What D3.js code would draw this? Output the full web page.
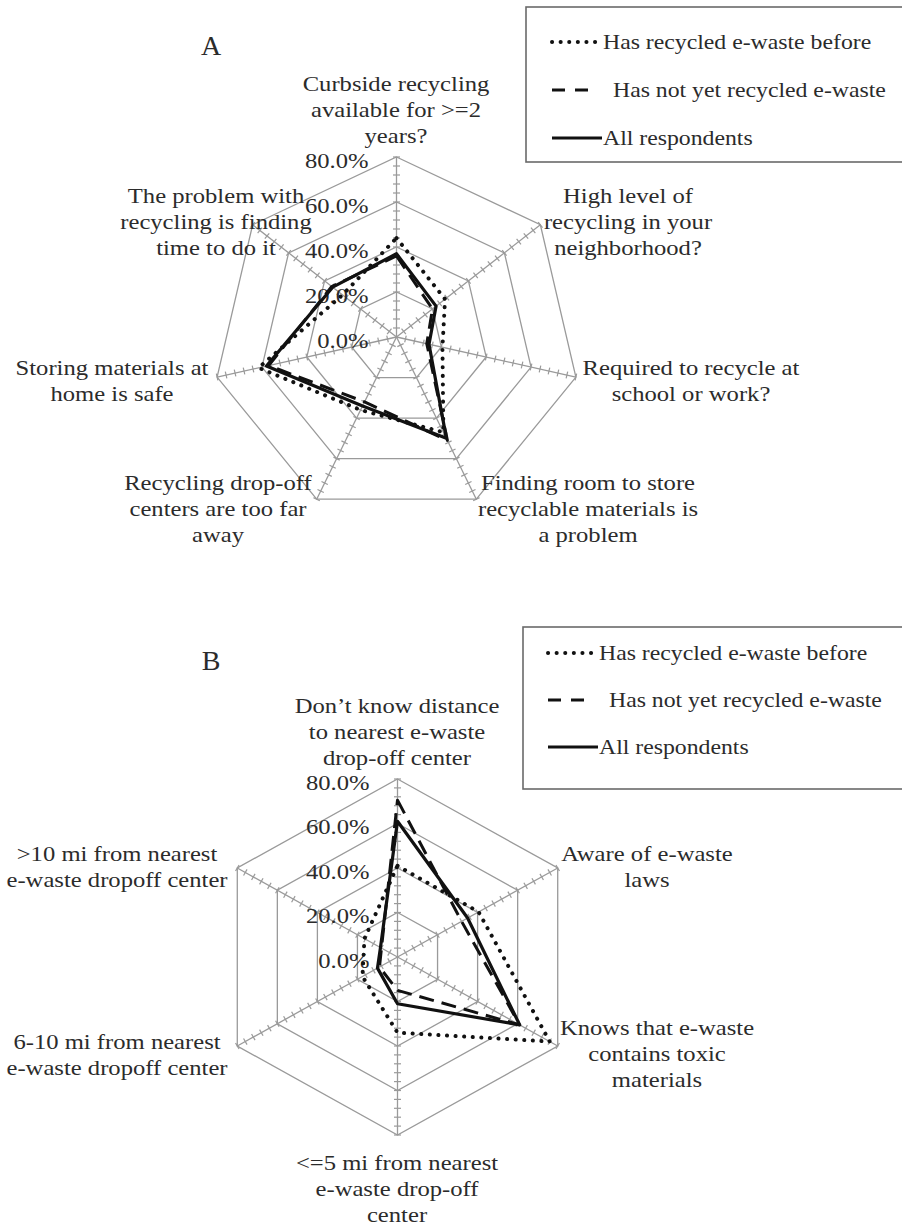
<!DOCTYPE html>
<html>
<head>
<meta charset="utf-8">
<script src="https://cdn.jsdelivr.net/npm/d3@7"></script>
<style>
  body { margin: 0; background: #fff; }
  svg { display: block; }
  text { font-family: "Liberation Serif", "Times New Roman", serif; fill: #2b2b2b; }
</style>
</head>
<body>
<svg id="chart" width="902" height="1226"></svg>
<script>
// Series names (legend order)
const seriesNames = ['Has recycled e-waste before', 'Has not yet recycled e-waste', 'All respondents'];

// Panel A: recycling attitudes (% of respondents)
const categoriesA = [
    'Curbside recycling\navailable for >=2\nyears?',
    'High level of\nrecycling in your\nneighborhood?',
    'Required to recycle at\nschool or work?',
    'Finding room to store\nrecyclable materials is\na problem',
    'Recycling drop-off\ncenters are too far\naway',
    'Storing materials at\nhome is safe',
    'The problem with\nrecycling is finding\ntime to do it'
];
const recycledA = [44, 27, 20.5, 47, 36, 61.5, 30];
const notRecycledA = [36, 20, 13.5, 51, 32, 57, 36];
const allA = [37, 22, 14.5, 50, 34, 58, 35.5];

// Panel B: e-waste knowledge and distance (% of respondents)
const categoriesB = [
    'Don\u2019t know distance\nto nearest e-waste\ndrop-off center',
    'Aware of e-waste\nlaws',
    'Knows that e-waste\ncontains toxic\nmaterials',
    '<=5 mi from nearest\ne-waste drop-off\ncenter',
    '6-10 mi from nearest\ne-waste dropoff center',
    '>10 mi from nearest\ne-waste dropoff center'
];
const recycledB = [41, 40.5, 76, 34, 17.5, 16.5];
const notRecycledB = [70.5, 32, 61, 15, 9, 8];
const allB = [61, 35, 61, 21, 10, 8.5];

// Value axis
const axisTicks = [0, 20, 40, 60, 80];
const minorStep = 4;

// Line styles for the three series
const seriesStyles = [
    { dash: '0.1 8.5', width: 4, cap: 'round' },
    { dash: '15 8', width: 3, cap: 'butt' },
    { dash: null, width: 3.2, cap: 'butt' }
];

const panels = [
    {
        title: 'A', titleX: 211, titleY: 45,
        cx: 396.5, cy: 337, rx: 184, ry: 180,
        categories: categoriesA,
        series: [recycledA, notRecycledA, allA],
        labelPos: [[396, 83], [628, 195], [691, 367], [588, 482], [218, 482], [112, 367], [216, 195]],
        legend: { x: 526, y: 7, h: 155, rows: [42, 90, 138], lineX: 552 }
    },
    {
        title: 'B', titleX: 211, titleY: 660,
        cx: 397.5, cy: 957, rx: 185, ry: 178,
        categories: categoriesB,
        series: [recycledB, notRecycledB, allB],
        labelPos: [[397, 705], [647, 853], [657, 1027], [397, 1162], [117, 1041], [117, 853]],
        legend: { x: 523, y: 627, h: 162, rows: [653, 700, 747], lineX: 548 }
    }
];

const svg = d3.select('#chart');
const fmt = d3.format('.1%');
const lineH = 26;
const textScale = 1.12;

function drawRadar(p) {
    const n = p.categories.length;
    const g = svg.append('g');
    const r = d3.scaleLinear().domain([0, 80]).range([0, 1]);
    const angle = d3.scaleLinear().domain([0, n]).range([-Math.PI / 2, 1.5 * Math.PI]);

    const pt = (v, i) => [
        p.cx + p.rx * r(v) * Math.cos(angle(i)),
        p.cy + p.ry * r(v) * Math.sin(angle(i))
    ];
    const closed = d3.line().curve(d3.curveLinearClosed);
    const idx = d3.range(n);

    // Rings
    g.selectAll('.ring')
        .data(axisTicks.filter(t => t > 0))
        .join('path')
        .attr('d', t => closed(idx.map(i => pt(t, i))))
        .attr('fill', 'none')
        .attr('stroke', '#9a9a9a')
        .attr('stroke-width', 1.3);

    // Spokes
    g.selectAll('.spoke')
        .data(idx)
        .join('line')
        .attr('x1', p.cx).attr('y1', p.cy)
        .attr('x2', i => pt(80, i)[0])
        .attr('y2', i => pt(80, i)[1])
        .attr('stroke', '#9a9a9a')
        .attr('stroke-width', 1.3);

    // Minor tick marks on every spoke
    const ticks = [];
    idx.forEach(i => {
        d3.range(minorStep, 80 + 0.1, minorStep).forEach(v => ticks.push({ i, v }));
    });
    g.selectAll('.tick')
        .data(ticks)
        .join('line')
        .each(function(d) {
            const [x, y] = pt(d.v, d.i);
            const a = angle(d.i);
            const nx = -Math.sin(a) * 3.5, ny = Math.cos(a) * 3.5;
            d3.select(this)
                .attr('x1', x - nx).attr('y1', y - ny)
                .attr('x2', x + nx).attr('y2', y + ny);
        })
        .attr('stroke', '#9a9a9a')
        .attr('stroke-width', 1.2);

    // Value labels on the first axis
    g.selectAll('.vlabel')
        .data(axisTicks)
        .join('text')
        .attr('transform', t => `translate(${p.cx - 28},${pt(t, 0)[1] + 3}) scale(${textScale},1)`)
        .attr('text-anchor', 'end')
        .attr('dominant-baseline', 'central')
        .attr('font-size', '22px')
        .text(t => fmt(t / 100));

    // Category labels
    g.selectAll('.clabel')
        .data(p.categories)
        .join('text')
        .attr('transform', (c, i) => `translate(${p.labelPos[i][0]},${p.labelPos[i][1]}) scale(${textScale},1)`)
        .attr('text-anchor', 'middle')
        .attr('dominant-baseline', 'central')
        .attr('font-size', '22px')
        .each(function(c) {
            d3.select(this).selectAll('tspan')
                .data(c.split('\n'))
                .join('tspan')
                .attr('x', 0)
                .attr('y', (s, k) => k * lineH)
                .text(s => s);
        });

    // Series
    g.selectAll('.series')
        .data(p.series)
        .join('path')
        .attr('d', vals => closed(vals.map((v, i) => pt(v, i))))
        .attr('fill', 'none')
        .attr('stroke', '#111')
        .attr('stroke-width', (v, k) => seriesStyles[k].width)
        .attr('stroke-dasharray', (v, k) => seriesStyles[k].dash)
        .attr('stroke-linecap', (v, k) => seriesStyles[k].cap)
        .attr('stroke-linejoin', 'round');

    // Title
    svg.append('text')
        .attr('x', p.titleX).attr('y', p.titleY)
        .attr('text-anchor', 'middle')
        .attr('dominant-baseline', 'central')
        .attr('font-size', '28px')
        .text(p.title);

    drawLegend(p.legend);
}

function drawLegend(l) {
    const g = svg.append('g');
    g.append('rect')
        .attr('x', l.x).attr('y', l.y)
        .attr('width', 905 - l.x).attr('height', l.h)
        .attr('fill', '#fff')
        .attr('stroke', '#6a6a6a')
        .attr('stroke-width', 1.6);

    const rows = g.selectAll('.row')
        .data(seriesNames)
        .join('g')
        .attr('transform', (s, k) => `translate(0,${l.rows[k]})`);

    rows.append('line')
        .attr('x1', l.lineX)
        .attr('x2', (s, k) => k === 1 ? l.lineX + 38 : l.lineX + 50)
        .attr('y1', 0).attr('y2', 0)
        .attr('stroke', '#111')
        .attr('stroke-width', (s, k) => seriesStyles[k].width)
        .attr('stroke-dasharray', (s, k) => k === 1 ? '13 10' : seriesStyles[k].dash)
        .attr('stroke-linecap', (s, k) => seriesStyles[k].cap);

    rows.append('text')
        .attr('transform', (s, k) => `translate(${k === 1 ? l.lineX + 61 : l.lineX + 51},0) scale(1.08,1)`)
        .attr('dominant-baseline', 'central')
        .attr('font-size', '22px')
        .text(s => s);
}

panels.forEach(drawRadar);
</script>
</body>
</html>
